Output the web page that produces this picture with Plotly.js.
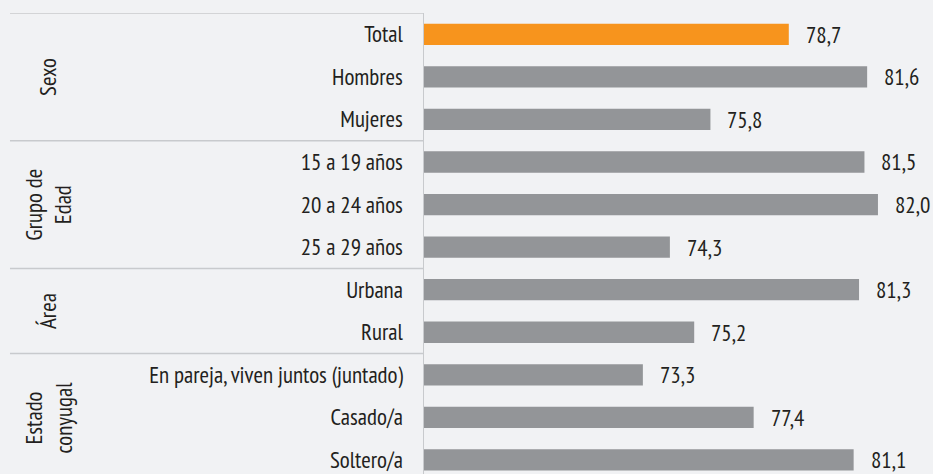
<!DOCTYPE html>
<html>
<head>
<meta charset="utf-8">
<script src="https://cdn.plot.ly/plotly-3.0.1.min.js"></script>
<style>
  html, body { margin: 0; padding: 0; background: #f1f2f4; }
  #chart { width: 933px; height: 474px; }
</style>
</head>
<body>
<div id="chart"></div>
<script>
// Data
const categories = ["Total", "Hombres", "Mujeres", "15 a 19 años", "20 a 24 años", "25 a 29 años",
  "Urbana", "Rural", "En pareja, viven juntos (juntado)", "Casado/a", "Soltero/a"];
const values = [78.7, 81.6, 75.8, 81.5, 82.0, 74.3, 81.3, 75.2, 73.3, 77.4, 81.1];
const groupLabels = ["Sexo", "Grupo de<br>Edad", "Área", "Estado<br>conyugal"];
const groupCenters = [1, 4, 6.5, 9];
const groupBoundaries = [-0.5, 2.5, 5.5, 7.5];

const FONT = "'PT Sans Narrow', 'Liberation Sans Narrow', 'DejaVu Sans Condensed', 'Roboto Condensed', sans-serif";
const TEXT = "#231f20";
const FS = 23;
const barColors = categories.map((c, i) => i === 0 ? "#f7941d" : "#939598");

const trace = {
  type: "bar",
  orientation: "h",
  y: categories,
  x: values,
  marker: { color: barColors },
  hoverinfo: "none",
  cliponaxis: false
};

const valueAnnotations = categories.map((c, i) => ({
  x: values[i], y: c, xref: "x", yref: "y",
  text: values[i].toFixed(1).replace(".", ","),
  showarrow: false, xanchor: "left", yanchor: "middle", xshift: 15,
  font: { family: FONT, size: FS, color: TEXT }
}));

const groupAnnotations = groupLabels.map((g, i) => ({
  x: -0.74, xref: "paper", y: groupCenters[i], yref: "y",
  text: g, textangle: -90, showarrow: false,
  xanchor: "center", yanchor: "middle",
  font: { family: FONT, size: FS, color: TEXT }
}));

const sepShapes = groupBoundaries.map(b => ({
  type: "line", xref: "paper", yref: "y",
  x0: -0.815, x1: 0, y0: b, y1: b,
  line: { color: "#c8cacd", width: 1.5 }
}));

const layout = {
  width: 933, height: 474,
  margin: { l: 424, r: 1, t: 13, b: 0, pad: 0 },
  paper_bgcolor: "#f1f2f4",
  plot_bgcolor: "#f1f2f4",
  showlegend: false,
  bargap: 0.5,
  separators: ",.",
  xaxis: {
    range: [65.2, 84], visible: false, fixedrange: true
  },
  yaxis: {
    type: "category",
    range: [10.33, -0.5],
    showline: true, linecolor: "#c8cacd", linewidth: 1.5,
    showgrid: false, zeroline: false,
    ticks: "", ticklabelstandoff: 15,
    tickfont: { family: FONT, size: FS, color: TEXT },
    fixedrange: true
  },
  annotations: valueAnnotations.concat(groupAnnotations),
  shapes: sepShapes
};

Plotly.newPlot("chart", [trace], layout, { displayModeBar: false, staticPlot: true });
</script>
</body>
</html>
